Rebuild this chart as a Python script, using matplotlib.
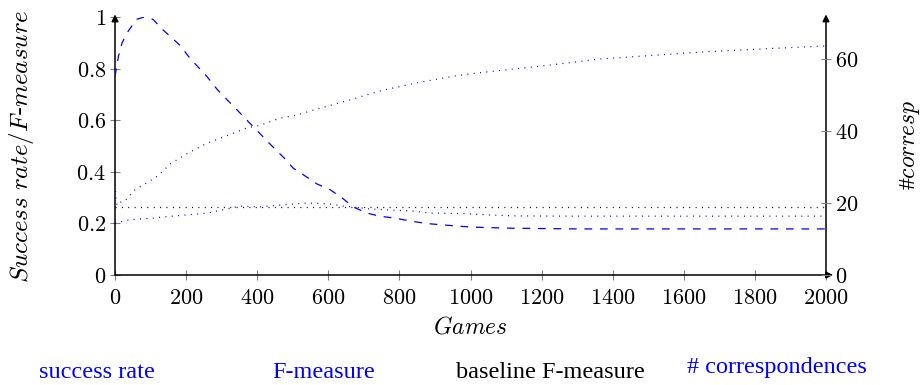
import matplotlib
matplotlib.use('Agg')
import matplotlib.pyplot as plt
from matplotlib.ticker import FuncFormatter

plt.rcParams['mathtext.fontset'] = 'cm'

# success rate (left axis)
sr_games = [0, 3, 6, 10, 28, 56, 93, 121, 155, 202, 258, 315, 371, 408, 464, 512, 560,
            652, 750, 850, 950, 1000, 1097, 1200, 1364, 1500, 1645, 1800, 2000]
sr_vals = [0.35, 0.29, 0.27, 0.28, 0.287, 0.33, 0.36, 0.385, 0.43, 0.47, 0.51, 0.54, 0.57,
           0.58, 0.608, 0.62, 0.64, 0.675, 0.715, 0.745, 0.77, 0.78, 0.795, 0.81, 0.837,
           0.85, 0.864, 0.875, 0.888]

# F-measure (left axis)
fm_games = [0, 37, 65, 104, 135, 202, 260, 287, 352, 408, 464, 520, 543, 580, 605, 642,
            670, 717, 773, 838, 886, 980, 1063, 1131, 1300, 1600, 2000]
fm_vals = [0.20, 0.213, 0.217, 0.22, 0.225, 0.233, 0.24, 0.248, 0.267, 0.264, 0.271, 0.277,
           0.279, 0.277, 0.275, 0.267, 0.264, 0.256, 0.252, 0.248, 0.24, 0.238, 0.232,
           0.229, 0.228, 0.228, 0.228]

# baseline F-measure (left axis)
base_games = [0, 2000]
base_vals = [0.262, 0.262]

# number of correspondences (right axis)
co_games = [0, 10, 20, 35, 60, 80, 107, 135, 183, 211, 258, 287, 315, 343, 371, 400, 427,
            456, 473, 501, 535, 568, 605, 639, 670, 709, 746, 788, 830, 877, 923, 962,
            1004, 1111, 1300, 1600, 2000]
co_vals = [55.2, 60.9, 64.5, 67.4, 71.0, 71.6, 71.0, 68.1, 63.8, 60.2, 55.2, 51.6, 48.7,
           45.9, 43.0, 40.1, 37.3, 34.4, 32.8, 29.7, 27.5, 25.3, 23.7, 21.4, 18.9, 17.2,
           16.3, 15.8, 15.0, 14.3, 13.9, 13.6, 13.3, 13.0, 12.8, 12.8, 12.8]

blue = '#0000ff'
lw = 0.9
dotted = (0, (0.8, 4.3))
dashed = (0, (6.2, 6.2))

fig = plt.figure(figsize=(9.24, 3.85), dpi=100)
ax = fig.add_axes([115/924, 1-275/385, 711/924, 258/385])
ax2 = ax.twinx()

ax.plot(sr_games, sr_vals, color=blue, lw=lw, linestyle=dotted)
ax.plot(fm_games, fm_vals, color=blue, lw=lw, linestyle=dotted)
ax.plot(base_games, base_vals, color='black', lw=lw, linestyle=dotted)
ax2.plot(co_games, co_vals, color=blue, lw=lw, linestyle=dashed)

ax.set_xlim(0, 2000)
ax.set_ylim(0, 1)
ax2.set_ylim(0, 71.67)
ax.set_xticks(range(0, 2001, 200))
ax.set_yticks([0, 0.2, 0.4, 0.6, 0.8, 1])
ax2.set_yticks([0, 20, 40, 60])

fmt = FuncFormatter(lambda v, p: r'$%g$' % v)
for a in (ax, ax2):
    a.xaxis.set_major_formatter(fmt)
    a.yaxis.set_major_formatter(fmt)
    a.tick_params(direction='inout', length=7, width=0.8, color='gray',
                  labelsize=16, pad=3)
    for s in a.spines.values():
        s.set_visible(False)
ax.tick_params(axis='x', pad=6)

# axis lines with arrow heads
arrow = dict(arrowstyle='-|>', lw=1.1, color='black', mutation_scale=10, shrinkA=0, shrinkB=0)
ax.annotate('', xy=(0, 1.01), xytext=(0, 0), xycoords='axes fraction', arrowprops=arrow)
ax.annotate('', xy=(1, 1.01), xytext=(1, 0), xycoords='axes fraction', arrowprops=arrow)
ax.annotate('', xy=(1.01, 0), xytext=(0, 0), xycoords='axes fraction', arrowprops=arrow)

fig.text(22/924, 1-146/385, r'$Success\ rate/F$-$measure$', rotation=90,
         ha='center', va='center', fontsize=18)
fig.text(910/924, 1-145/385, '#' + r'$corresp$', rotation=90,
         ha='center', va='center', fontsize=17, family='Liberation Serif')
fig.text(470/924, 1-327/385, r'$Games$', ha='center', va='center', fontsize=17)

legend_font = 'Liberation Serif'
fig.text(97/924, 1-372/385, 'success rate', color=blue, ha='center', va='center',
         fontsize=17.5, family=legend_font)
fig.text(324/924, 1-372/385, 'F-measure', color=blue, ha='center', va='center',
         fontsize=17.5, family=legend_font)
fig.text(550/924, 1-372/385, 'baseline F-measure', color='black', ha='center', va='center',
         fontsize=17.5, family=legend_font)
fig.text(777/924, 1-368/385, '# correspondences', color=blue, ha='center', va='center',
         fontsize=17.5, family=legend_font)

fig.savefig('out.png', dpi=100)
